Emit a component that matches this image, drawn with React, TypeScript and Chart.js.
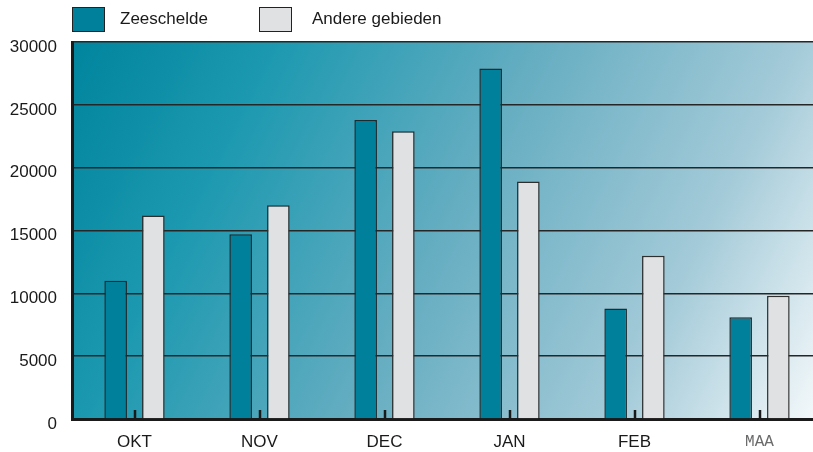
import React, { useEffect, useRef } from 'react';
import { Chart, registerables } from 'chart.js';

Chart.register(...registerables);

const categories = ['OKT', 'NOV', 'DEC', 'JAN', 'FEB', 'MAA'];
const zeeschelde = [11000, 14700, 23800, 27900, 8800, 8100];
const andereGebieden = [16200, 17000, 22900, 18900, 13000, 9800];
const seriesNames = ['Zeeschelde', 'Andere gebieden'];
const seriesColors = ['#00809a', '#e0e1e3'];
const yMin = 0;
const yMax = 30000;
const yStep = 5000;

const bgPlugin = {
  id: 'bgGradient',
  beforeDraw(chart: any) {
    const { ctx, chartArea } = chart;
    const { left, top, right, bottom } = chartArea;
    const g = ctx.createLinearGradient(left, top, 813, bottom);
    g.addColorStop(0, '#00849d');
    g.addColorStop(0.22, '#1c99b0');
    g.addColorStop(0.5, '#65adc1');
    g.addColorStop(0.78, '#a3cad8');
    g.addColorStop(1, '#f3f8fa');
    ctx.save();
    ctx.fillStyle = g;
    ctx.fillRect(left, top, right - left, bottom - top);
    ctx.restore();
  },
};

const innerTickPlugin = {
  id: 'innerTicks',
  afterDraw(chart: any) {
    const { ctx, chartArea } = chart;
    const xs = chart.scales.x;
    ctx.save();
    ctx.strokeStyle = '#1a1a1a';
    ctx.lineWidth = 2.5;
    categories.forEach((_, i) => {
      const x = Math.round(xs.getPixelForValue(i));
      ctx.beginPath();
      ctx.moveTo(x, chartArea.bottom - 9);
      ctx.lineTo(x, chartArea.bottom);
      ctx.stroke();
    });
    ctx.restore();
  },
};

export default function App() {
  const ref = useRef<HTMLCanvasElement | null>(null);

  useEffect(() => {
    if (!ref.current) return;
    const chart = new Chart(ref.current, {
      type: 'bar',
      data: {
        labels: categories,
        datasets: [
          {
            label: seriesNames[0],
            data: zeeschelde,
            backgroundColor: seriesColors[0],
            borderColor: '#1f2a2e',
            borderWidth: 1.5,
            categoryPercentage: 0.603,
            barPercentage: 0.6,
          },
          {
            label: seriesNames[1],
            data: andereGebieden,
            backgroundColor: seriesColors[1],
            borderColor: '#2e2e2e',
            borderWidth: 1.5,
            categoryPercentage: 0.603,
            barPercentage: 0.6,
          },
        ],
      },
      options: {
        responsive: false,
        animation: false,
        devicePixelRatio: 1,
        layout: { padding: { top: 42, right: 8, left: 0, bottom: 0 } },
        plugins: {
          legend: { display: false },
          tooltip: { enabled: false },
        },
        scales: {
          x: {
            grid: { display: false, drawTicks: false },
            border: { display: true, color: '#1a1a1a', width: 3 },
            afterFit: (s: any) => {
              s.height = 33;
            },
            ticks: {
              padding: 13,
              color: (c: any) => (c.index === 5 ? '#6b6b6b' : '#1a1a1a'),
              font: (c: any) =>
                c.index === 5
                  ? { family: 'Liberation Mono', size: 16 }
                  : { family: 'Liberation Sans', size: 17 },
            },
          },
          y: {
            min: yMin,
            max: yMax,
            grid: { color: '#262626', lineWidth: 1.5, drawTicks: false },
            border: { display: true, color: '#1a1a1a', width: 3 },
            afterFit: (s: any) => {
              s.width = 72;
            },
            ticks: {
              stepSize: yStep,
              padding: 15,
              labelOffset: 5,
              color: '#1a1a1a',
              font: { family: 'Liberation Sans', size: 17 },
              callback: (v: any) => String(v),
            },
          },
        },
      },
      plugins: [bgPlugin, innerTickPlugin],
    });
    return () => chart.destroy();
  }, []);

  const legendItem = (i: number, boxLeft: number, textLeft: number) => (
    <React.Fragment key={i}>
      <div
        style={{
          position: 'absolute',
          left: boxLeft,
          top: 7,
          width: 31,
          height: 23,
          background: seriesColors[i],
          border: '1px solid #222',
        }}
      />
      <div
        style={{
          position: 'absolute',
          left: textLeft,
          top: 8,
          fontFamily: 'Liberation Sans',
          fontSize: 17,
          lineHeight: '22px',
          color: '#1a1a1a',
          whiteSpace: 'nowrap',
        }}
      >
        {seriesNames[i]}
      </div>
    </React.Fragment>
  );

  return (
    <div
      style={{
        position: 'absolute',
        left: 0,
        top: 0,
        width: 813,
        height: 452,
        overflow: 'hidden',
        background: '#fff',
      }}
    >
      <canvas
        ref={ref}
        width={830}
        height={452}
        style={{ position: 'absolute', left: 0, top: 0, width: 830, height: 452 }}
      />
      {legendItem(0, 72, 120)}
      {legendItem(1, 259, 312)}
    </div>
  );
}
